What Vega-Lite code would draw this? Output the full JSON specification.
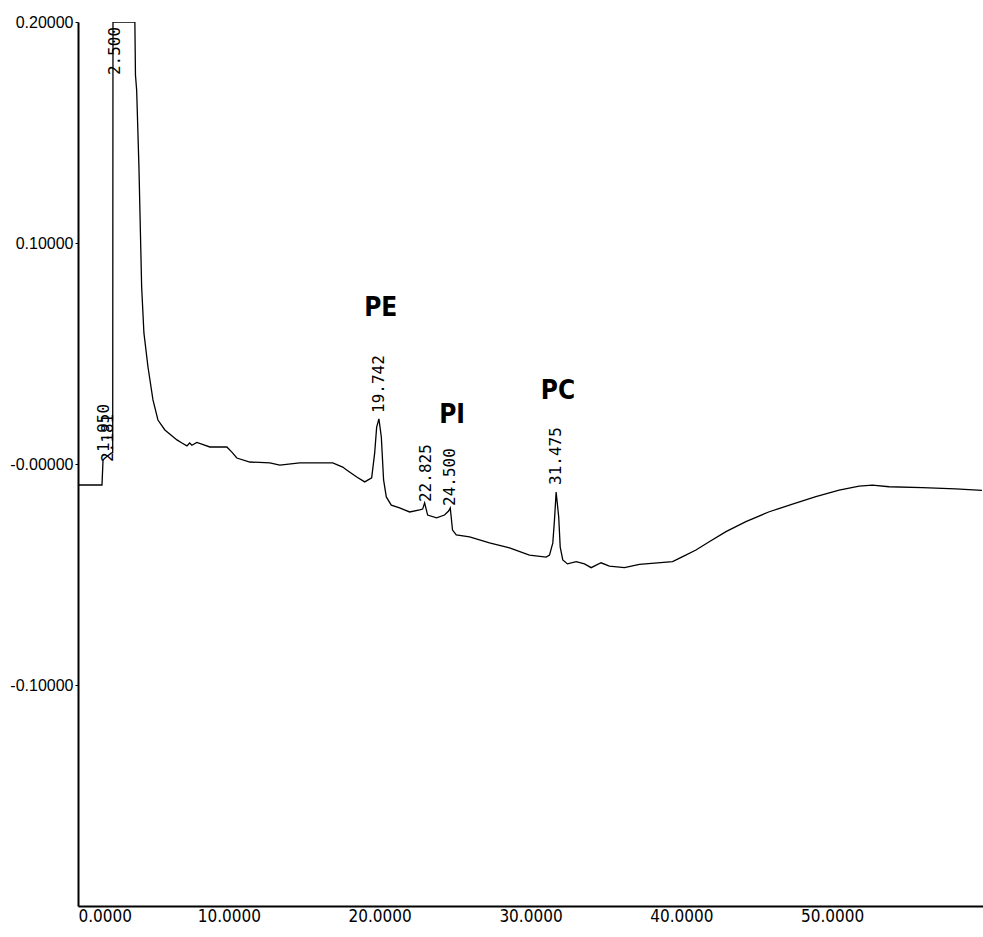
{
  "$schema": "https://vega.github.io/schema/vega-lite/v6.json",
  "width": 905,
  "height": 884,
  "autosize": {"type": "none"},
  "padding": {"left": 78, "top": 22, "right": 0, "bottom": 31},
  "background": "white",
  "config": {
    "view": {"stroke": null},
    "axis": {"grid": false, "domainColor": "#000", "tickColor": "#000", "labelColor": "#000", "title": null}
  },
  "datasets": {
    "trace": [
      {"t": 0.0, "v": -0.0095}, {"t": 1.59, "v": -0.0095}, {"t": 1.66, "v": 0.0018}, {"t": 1.79, "v": 0.0027},
      {"t": 2.22, "v": 0.005}, {"t": 2.3, "v": 0.005}, {"t": 2.32, "v": 0.2}, {"t": 3.77, "v": 0.2},
      {"t": 3.81, "v": 0.176}, {"t": 3.89, "v": 0.169}, {"t": 4.04, "v": 0.1344}, {"t": 4.22, "v": 0.0801},
      {"t": 4.37, "v": 0.0593}, {"t": 4.64, "v": 0.0439}, {"t": 4.97, "v": 0.029}, {"t": 5.3, "v": 0.0199},
      {"t": 5.76, "v": 0.0154}, {"t": 6.16, "v": 0.0131}, {"t": 6.56, "v": 0.0109}, {"t": 6.89, "v": 0.0095},
      {"t": 7.22, "v": 0.0082}, {"t": 7.4, "v": 0.0095}, {"t": 7.55, "v": 0.0085}, {"t": 7.88, "v": 0.0098},
      {"t": 8.3, "v": 0.0088}, {"t": 8.74, "v": 0.0077}, {"t": 9.87, "v": 0.0077}, {"t": 10.2, "v": 0.0054},
      {"t": 10.53, "v": 0.0027}, {"t": 11.39, "v": 0.0009}, {"t": 12.72, "v": 0.0005}, {"t": 13.38, "v": -0.0005},
      {"t": 14.7, "v": 0.0005}, {"t": 16.89, "v": 0.0005}, {"t": 17.55, "v": -0.0014}, {"t": 17.81, "v": -0.0027},
      {"t": 18.48, "v": -0.0059}, {"t": 19.01, "v": -0.0081}, {"t": 19.47, "v": -0.0063}, {"t": 19.67, "v": 0.005},
      {"t": 19.8, "v": 0.0167}, {"t": 19.95, "v": 0.0204}, {"t": 20.11, "v": 0.0122}, {"t": 20.26, "v": -0.0072},
      {"t": 20.44, "v": -0.0149}, {"t": 20.77, "v": -0.0186}, {"t": 21.32, "v": -0.0199}, {"t": 21.99, "v": -0.0217},
      {"t": 22.65, "v": -0.0208}, {"t": 22.85, "v": -0.0204}, {"t": 22.98, "v": -0.0176}, {"t": 23.18, "v": -0.0231},
      {"t": 23.77, "v": -0.0244}, {"t": 24.3, "v": -0.0231}, {"t": 24.57, "v": -0.0213}, {"t": 24.68, "v": -0.0199},
      {"t": 24.83, "v": -0.0299}, {"t": 25.08, "v": -0.0321}, {"t": 25.96, "v": -0.033}, {"t": 27.28, "v": -0.0357},
      {"t": 28.61, "v": -0.038}, {"t": 29.93, "v": -0.0412}, {"t": 31.04, "v": -0.0421}, {"t": 31.26, "v": -0.0412},
      {"t": 31.48, "v": -0.0357}, {"t": 31.59, "v": -0.0253}, {"t": 31.7, "v": -0.0127}, {"t": 31.87, "v": -0.024},
      {"t": 31.97, "v": -0.0376}, {"t": 32.14, "v": -0.0434}, {"t": 32.45, "v": -0.0452}, {"t": 33.03, "v": -0.0442},
      {"t": 33.58, "v": -0.0452}, {"t": 34.02, "v": -0.0469}, {"t": 34.68, "v": -0.0447}, {"t": 35.23, "v": -0.0462},
      {"t": 36.23, "v": -0.0469}, {"t": 37.22, "v": -0.0454}, {"t": 39.42, "v": -0.0442}, {"t": 40.09, "v": -0.0419},
      {"t": 40.97, "v": -0.0389}, {"t": 41.85, "v": -0.0352}, {"t": 42.96, "v": -0.0306}, {"t": 44.28, "v": -0.0261},
      {"t": 45.83, "v": -0.0216}, {"t": 47.37, "v": -0.0182}, {"t": 48.92, "v": -0.0148}, {"t": 50.46, "v": -0.0118},
      {"t": 51.79, "v": -0.01}, {"t": 52.67, "v": -0.0096}, {"t": 53.77, "v": -0.0103}, {"t": 55.98, "v": -0.0107},
      {"t": 58.19, "v": -0.0113}, {"t": 59.93, "v": -0.0119}
    ],
    "peaks": [
      {"t": 1.72, "v": 0.0054, "label": "1.950"},
      {"t": 1.99, "v": 0.0009, "label": "2.181"},
      {"t": 2.45, "v": 0.176, "label": "2.500"},
      {"t": 19.95, "v": 0.0231, "label": "19.742"},
      {"t": 23.05, "v": -0.0172, "label": "22.825"},
      {"t": 24.64, "v": -0.019, "label": "24.500"},
      {"t": 31.7, "v": -0.0095, "label": "31.475"}
    ],
    "compounds": [
      {"t": 20.07, "v": 0.0706, "name": "PE"},
      {"t": 24.8, "v": 0.0223, "name": "PI"},
      {"t": 31.82, "v": 0.033, "name": "PC"}
    ]
  },
  "encoding": {
    "x": {
      "field": "t", "type": "quantitative",
      "scale": {"domain": [0, 60], "nice": false, "zero": false},
      "axis": {
        "values": [0, 10, 20, 30, 40, 50], "format": ".4f",
        "ticks": false, "labelPadding": 2, "domainWidth": 2,
        "labelFont": "DejaVu Sans Condensed, Liberation Sans, sans-serif", "labelFontSize": 17
      }
    },
    "y": {
      "field": "v", "type": "quantitative",
      "scale": {"domain": [-0.2, 0.2], "nice": false, "zero": false},
      "axis": {
        "values": [-0.1, 0, 0.1, 0.2],
        "labelExpr": "(datum.value <= 0 ? '-' : '') + format(abs(datum.value), '.5f')",
        "tickSize": 3, "labelPadding": 2, "domainWidth": 2,
        "labelFont": "Liberation Sans, sans-serif", "labelFontSize": 16
      }
    }
  },
  "layer": [
    {
      "data": {"name": "trace"},
      "mark": {"type": "line", "color": "#000", "strokeWidth": 1.3, "clip": true}
    },
    {
      "data": {"values": [{}]},
      "mark": {"type": "rule", "color": "#000", "strokeWidth": 1.5},
      "encoding": {"x": null, "y": {"datum": 0.2}}
    },
    {
      "data": {"name": "peaks"},
      "mark": {"type": "text", "angle": 270, "align": "left", "baseline": "middle", "font": "DejaVu Sans Mono, monospace", "fontSize": 16, "color": "#000"},
      "encoding": {"text": {"field": "label"}}
    },
    {
      "data": {"name": "compounds"},
      "mark": {"type": "text", "align": "center", "baseline": "middle", "font": "DejaVu Sans Condensed, Liberation Sans, sans-serif", "fontWeight": "bold", "fontSize": 26, "color": "#000"},
      "encoding": {"text": {"field": "name"}}
    }
  ]
}
